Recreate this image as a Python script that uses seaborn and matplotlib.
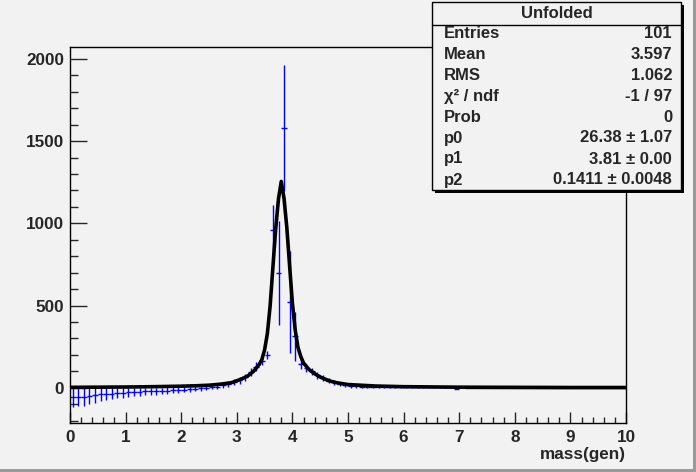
import numpy as np
import pandas as pd
import matplotlib
matplotlib.use("Agg")
import matplotlib.pyplot as plt
from matplotlib.ticker import MultipleLocator
from matplotlib.patches import Rectangle
import seaborn as sns

# ---------------- data ----------------
bin_centers = [round(0.05 + 0.1 * i, 2) for i in range(100)]
bin_values = [
    -57, -57, -57, -51, -46, -41, -39, -36, -33, -31,
    -28, -26, -24, -23, -22, -21, -20, -18, -16, -14,
    -12, -10, -7, -4, 0, 3, 7, 14, 22, 32,
    44, 62, 93, 128, 160, 200, 960, 700, 1578, 520,
    312, 144, 122, 99, 75, 57, 42, 32, 22, 15,
    11, 9, 7, 6, 5, 4, 4, 3, 3, 3,
    2, 2, 2, 2, 2, 2, 2, 2, 2, -6,
    2, 1, 1, 1, 1, 1, 1, 1, 1, 1,
    1, 1, 1, 1, 1, 1, 1, 1, 1, 1,
    1, 1, 1, 1, 1, 1, 1, 1, 1, 0,
]
bin_errors = [
    62, 57, 52, 48, 45, 41, 38, 35, 32, 30,
    28, 26, 25, 24, 23, 22, 21, 20, 19, 18,
    17, 16, 15, 14, 14, 14, 14, 15, 16, 18,
    20, 22, 25, 28, 24, 26, 152, 317, 384, 310,
    150, 30, 25, 22, 20, 18, 16, 14, 12, 11,
    10, 9, 8, 7, 6, 6, 5, 5, 5, 4,
    4, 4, 4, 4, 4, 4, 4, 4, 4, 5,
    3, 3, 3, 3, 3, 3, 3, 3, 3, 3,
    3, 3, 3, 3, 3, 3, 3, 3, 3, 3,
    3, 3, 3, 3, 3, 3, 3, 3, 3, 3,
]

fit_x = [0.0, 0.5, 1.0, 1.5, 2.0, 2.3, 2.5, 2.7, 2.9, 3.0, 3.1, 3.2, 3.3,
         3.4, 3.45, 3.5, 3.55, 3.6, 3.65, 3.7, 3.75, 3.8, 3.85, 3.9, 3.95,
         4.0, 4.05, 4.1, 4.15, 4.2, 4.3, 4.4, 4.5, 4.6, 4.7, 4.8, 5.0,
         5.5, 6.0, 7.0, 8.0, 9.0, 10.0]
fit_y = [2, 3, 4, 6, 9, 12, 15, 21, 30, 42, 55, 72, 99,
         140, 170, 230, 330, 500, 737, 968, 1150, 1255, 1150, 973, 740,
         514, 352, 245, 190, 150, 110, 85, 65, 50, 38, 30, 19,
         10, 6, 3, 2, 1, 1]

stats_labels = ["Entries", "Mean", "RMS", "\u03c7\u00b2 / ndf", "Prob", "p0", "p1", "p2"]
stats_values = ["101", "3.597", "1.062", "-1 / 97", "0",
                "26.38 \u00b1 1.07", "3.81 \u00b1 0.00", "0.1411 \u00b1 0.0048"]
stats_title = "Unfolded"
x_label = "mass(gen)"

# ---------------- figure ----------------
sns.set_style("ticks")
plt.rcParams["font.family"] = ["Liberation Sans", "DejaVu Sans"]
plt.rcParams["font.weight"] = "bold"

W, H = 696, 472
BG = "#f2f2f2"
fig = plt.figure(figsize=(W / 100, H / 100), dpi=100, facecolor=BG)

def fx(px):
    return px / W

def fy(py):
    return 1 - py / H

ax = fig.add_axes([fx(70), fy(423), fx(626) - fx(70), fy(47) - fy(423)])
ax.set_facecolor(BG)

ax.errorbar(bin_centers, bin_values, xerr=0.05, yerr=bin_errors, fmt="none",
            ecolor="#0000ff", elinewidth=1.0, capsize=0, zorder=2)

fit_df = pd.DataFrame({"x": fit_x, "y": fit_y})
sns.lineplot(data=fit_df, x="x", y="y", color="black", linewidth=2.6,
             ax=ax, zorder=3, sort=False)

ax.set_xlim(0, 10)
ax.set_ylim(-215, 2073)
ax.set_xlabel("")
ax.set_ylabel("")

for s in ax.spines.values():
    s.set_visible(True)
    s.set_color("black")
    s.set_linewidth(1.0)

ax.xaxis.set_major_locator(MultipleLocator(1))
ax.xaxis.set_minor_locator(MultipleLocator(0.2))
ax.yaxis.set_major_locator(MultipleLocator(500))
ax.yaxis.set_minor_locator(MultipleLocator(100))

TS = 12.3
ax.tick_params(axis="x", which="major", direction="in", length=8.1, width=1,
               pad=5.0, labelsize=TS, top=False)
ax.tick_params(axis="x", which="minor", direction="in", length=4.0, width=1, top=False)
ax.tick_params(axis="y", which="major", direction="in", length=12, width=1,
               pad=4.3, labelsize=TS, right=False)
ax.tick_params(axis="y", which="minor", direction="in", length=6, width=1, right=False)
for lab in ax.get_xticklabels() + ax.get_yticklabels():
    lab.set_fontweight("bold")

fig.text(fx(626), fy(455), x_label, ha="right", va="center",
         fontsize=TS, fontweight="bold")

# ---------------- stats box ----------------
SS = 12.0
bx0, bx1, by0, by1 = 432, 681, 2, 190
# shadow
fig.patches.append(Rectangle((fx(bx0 + 3), fy(by1 + 3)), fx(bx1 + 3) - fx(bx0 + 3),
                             fy(by0 + 3) - fy(by1 + 3), transform=fig.transFigure,
                             facecolor="black", edgecolor="none", zorder=5))
fig.patches.append(Rectangle((fx(bx0), fy(by1)), fx(bx1) - fx(bx0), fy(by0) - fy(by1),
                             transform=fig.transFigure, facecolor=BG,
                             edgecolor="black", linewidth=1.0, zorder=6))
fig.add_artist(plt.Line2D([fx(bx0), fx(bx1)], [fy(25), fy(25)],
                          transform=fig.transFigure, color="black", lw=1.0, zorder=7))
fig.text(fx((bx0 + bx1) / 2), fy(13.5), stats_title, ha="center", va="center",
         fontsize=SS, fontweight="bold", zorder=8)
row_y = [34, 54.5, 75.5, 96.5, 117, 138, 159, 180]
for lab, val, ry in zip(stats_labels, stats_values, row_y):
    fig.text(fx(444), fy(ry), lab, ha="left", va="center", fontsize=SS,
             fontweight="bold", zorder=8)
    fig.text(fx(672), fy(ry), val, ha="right", va="center", fontsize=SS,
             fontweight="bold", zorder=8)

# canvas bevel (right and bottom dark edges)
fig.patches.append(Rectangle((fx(693), 0), fx(3), 1, transform=fig.transFigure,
                             facecolor="#9a9a9a", edgecolor="none", zorder=1))
fig.patches.append(Rectangle((0, 0), 1, 3 / H, transform=fig.transFigure,
                             facecolor="#9a9a9a", edgecolor="none", zorder=1))

fig.savefig("out.png", dpi=100, facecolor=BG)
